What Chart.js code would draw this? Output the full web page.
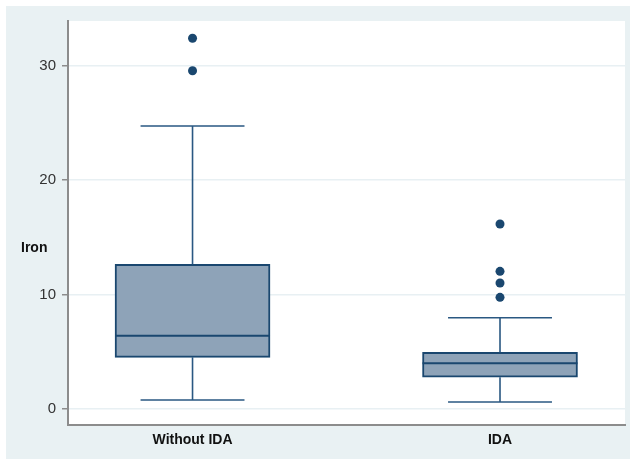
<!DOCTYPE html>
<html>
<head>
<meta charset="utf-8">
<script src="https://cdn.jsdelivr.net/npm/chart.js@4"></script>
<style>
  html, body { margin: 0; padding: 0; background: #ffffff; }
  #wrap { position: absolute; left: 6px; top: 6px; width: 624px; height: 453px; background: #e9f1f3; }
</style>
</head>
<body>
<div id="wrap"><canvas id="iron" width="624" height="453"></canvas></div>
<script>
const categories = ['Without IDA', 'IDA'];
const lowerWhisker = [0.8, 0.63];
const q1 = [4.53, 2.79];
const median = [6.42, 4.01];
const q3 = [12.65, 4.97];
const upperWhisker = [24.73, 7.99];
const outliers = [[29.56, 32.39], [9.77, 11.02, 12.04, 16.17]];
const yTicks = [0, 10, 20, 30];

const BOX_HALF = 0.252;
const CAP_HALF = 0.169;
const navy = '#1a476f';

// build line pieces per box, null point breaks the line between boxes
function pieces(fn) {
  const pts = [];
  categories.forEach((c, i) => {
    fn(i + 1, i).forEach((seg) => {
      pts.push(seg[0], seg[1], { x: seg[1].x, y: null });
    });
  });
  return pts;
}

const medianPts = pieces((x, i) => [[{ x: x - BOX_HALF, y: median[i] }, { x: x + BOX_HALF, y: median[i] }]]);
const stemPts = pieces((x, i) => [
  [{ x: x, y: q3[i] }, { x: x, y: upperWhisker[i] }],
  [{ x: x, y: q1[i] }, { x: x, y: lowerWhisker[i] }],
]);
const capPts = pieces((x, i) => [
  [{ x: x - CAP_HALF, y: upperWhisker[i] }, { x: x + CAP_HALF, y: upperWhisker[i] }],
  [{ x: x - CAP_HALF, y: lowerWhisker[i] }, { x: x + CAP_HALF, y: lowerWhisker[i] }],
]);
const outlierPts = [];
outliers.forEach((list, i) => list.forEach((v) => outlierPts.push({ x: i + 1, y: v })));
const boxPts = categories.map((c, i) => ({ x: i + 1, y: [q1[i], q3[i]] }));

const plotBg = {
  id: 'plotBg',
  beforeDraw(chart) {
    const a = chart.chartArea;
    const ctx = chart.ctx;
    ctx.save();
    ctx.fillStyle = '#ffffff';
    ctx.fillRect(a.left, a.top, a.right - a.left, a.bottom - a.top);
    ctx.restore();
  },
  afterDraw(chart) {
    const ctx = chart.ctx;
    const y = chart.scales.y;
    ctx.save();
    ctx.font = 'bold 14px "Liberation Sans", Arial, sans-serif';
    ctx.fillStyle = '#111111';
    ctx.textBaseline = 'middle';
    ctx.textAlign = 'left';
    ctx.fillText('Iron', 15, (y.top + y.bottom) / 2 + 25);
    ctx.restore();
  }
};

const lineDefaults = {
  type: 'line',
  borderColor: '#2a5882',
  borderWidth: 1.6,
  pointRadius: 0,
  fill: false,
  spanGaps: false,
  tension: 0,
};

new Chart(document.getElementById('iron'), {
  type: 'bar',
  data: {
    datasets: [
      {
        type: 'scatter',
        data: outlierPts,
        pointRadius: 4.5,
        pointBackgroundColor: navy,
        pointBorderColor: navy,
        pointBorderWidth: 0,
      },
      Object.assign({}, lineDefaults, { data: medianPts, borderColor: navy, borderWidth: 2 }),
      Object.assign({}, lineDefaults, { data: stemPts }),
      Object.assign({}, lineDefaults, { data: capPts }),
      {
        type: 'bar',
        data: boxPts,
        backgroundColor: '#8ea3b8',
        borderColor: navy,
        borderWidth: 2,
        borderSkipped: false,
        barThickness: 155,
      },
    ],
  },
  options: {
    responsive: false,
    devicePixelRatio: 1,
    animation: false,
    layout: { padding: { top: 15, right: 5, left: 0, bottom: 0 } },
    plugins: { legend: { display: false }, tooltip: { enabled: false } },
    scales: {
      x: {
        type: 'linear',
        offset: false,
        min: 0.595,
        max: 2.4065,
        grid: { display: false, drawTicks: false },
        border: { display: true, color: '#8c8c8c', width: 2 },
        afterBuildTicks: (s) => { s.ticks = categories.map((c, i) => ({ value: i + 1 })); },
        afterFit: (s) => { s.height = 34; },
        ticks: {
          autoSkip: false,
          maxRotation: 0,
          padding: 7,
          color: '#111111',
          font: { family: '"Liberation Sans", Arial, sans-serif', size: 14, weight: 'bold' },
          callback: (v) => categories[v - 1],
        },
      },
      y: {
        type: 'linear',
        min: -1.38,
        max: 33.9,
        grid: { color: '#e8f0f3', lineWidth: 1.5, tickColor: '#8c8c8c', tickLength: 6 },
        border: { display: true, color: '#8c8c8c', width: 2 },
        afterBuildTicks: (s) => { s.ticks = yTicks.map((v) => ({ value: v })); },
        afterFit: (s) => { s.width = 62; },
        ticks: {
          padding: 6,
          color: '#333333',
          font: { family: '"Liberation Sans", Arial, sans-serif', size: 15 },
        },
      },
    },
  },
  plugins: [plotBg],
});
</script>
</body>
</html>
